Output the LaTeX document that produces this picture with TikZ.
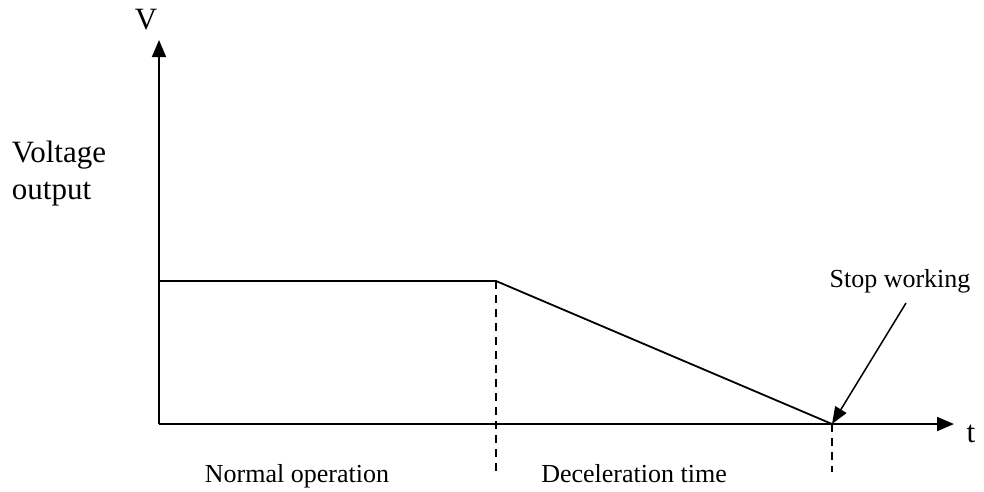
\documentclass[tikz,border=0pt]{standalone}
\usepackage{fontspec}
\setmainfont{Liberation Serif}
\usetikzlibrary{arrows.meta}

\begin{document}
\begin{tikzpicture}[x=1pt, y=-1pt, line width=1.8pt,
                    every node/.style={inner sep=0pt},
                    big/.style={font=\fontsize{31}{37}\selectfont},
                    small/.style={font=\fontsize{26}{29}\selectfont},
                    axis/.style={-{Triangle[length=17pt,width=14pt]}},
                    marker/.style={line width=1.5pt, dash pattern=on 8pt off 6pt}]
                    \useasboundingbox (0,0) rectangle (984,491);
                    \coordinate (O) at (159, 424);
                    \coordinate (Ytop) at (159, 40);
                    \coordinate (Xend) at (954, 424);
                    \coordinate (Hold) at (159, 281);
                    \coordinate (Knee) at (496, 281);
                    \coordinate (Stop) at (832, 424);
                    \coordinate (KneeLow) at (496, 472);
                    \coordinate (StopLow) at (832, 472);
                    \coordinate (Hint) at (906, 303);

                    \node[big] (V) at (146, 20) {V};
                    \node[big] (t) at (971, 434) {t};
                    \node[big, align=left, anchor=north west] (vout) at (11, 140) {Voltage\\output};
                    \node[small, anchor=base] (stopw) at (900, 287) {Stop working};
                    \node[small, anchor=base] (normal) at (297, 482) {Normal operation};
                    \node[small, anchor=base] (decel) at (634, 482) {Deceleration time};

                    \draw[axis] (O) -- (Ytop);
                    \draw[axis] (O) -- (Xend);
                    \draw (Hold) -- (Knee) -- (Stop);
                    \draw[marker] (Knee) -- (KneeLow);
                    \draw[marker] (Stop) -- (StopLow);
                    \draw[-{Triangle[length=17pt,width=13pt]}, line width=1.5pt] (Hint) -- (Stop);
                \end{tikzpicture}
\end{document}
